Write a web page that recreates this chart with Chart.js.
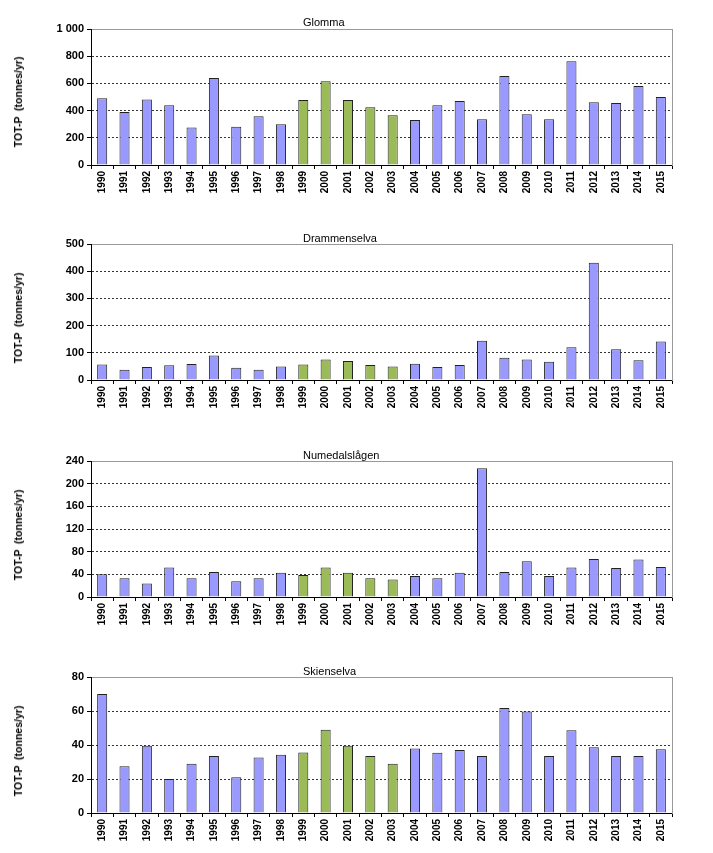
<!DOCTYPE html>
<html>
<head>
<meta charset="utf-8">
<script src="https://cdn.jsdelivr.net/npm/chart.js@4"></script>
<style>
  body { margin: 0; background: #fff; width: 713px; height: 853px; position: relative; overflow: hidden;
         font-family: "Liberation Sans", Arial, sans-serif; }
  .panel { position: absolute; left: 0; width: 713px; height: 206px; }
  .ttl { position: absolute; left: 303px; font-size: 11px; line-height: 12px; color: #000; }
  .ylab { position: absolute; left: 18px; font-size: 10.5px; font-weight: bold; white-space: pre; color: #000;
          transform: translate(-50%, -50%) rotate(-90deg); line-height: 12px; }
</style>
</head>
<body>
<div class="panel" style="top:9px"><canvas id="glommaChart" width="713" height="206"></canvas></div>
<div class="ttl" style="top:16px">Glomma</div>
<div class="ylab" style="top:102px">TOT-P  (tonnes/yr)</div>
<div class="panel" style="top:224px"><canvas id="drammenChart" width="713" height="206"></canvas></div>
<div class="ttl" style="top:232px">Drammenselva</div>
<div class="ylab" style="top:318px">TOT-P  (tonnes/yr)</div>
<div class="panel" style="top:441px"><canvas id="numedalChart" width="713" height="206"></canvas></div>
<div class="ttl" style="top:449px">Numedalslågen</div>
<div class="ylab" style="top:535px">TOT-P  (tonnes/yr)</div>
<div class="panel" style="top:657px"><canvas id="skienChart" width="713" height="206"></canvas></div>
<div class="ttl" style="top:665px">Skienselva</div>
<div class="ylab" style="top:751px">TOT-P  (tonnes/yr)</div>

<script>
const years = ["1990","1991","1992","1993","1994","1995","1996","1997","1998","1999","2000","2001","2002",
  "2003","2004","2005","2006","2007","2008","2009","2010","2011","2012","2013","2014","2015"];
const greenYears = ["1999","2000","2001","2002","2003"];

const glomma = [490, 390, 482, 440, 275, 640, 282, 358, 300, 478, 615, 478, 425, 365, 330, 440, 470, 336,
  655, 373, 336, 763, 461, 455, 580, 500];
const drammen = [57, 38, 48, 54, 59, 90, 45, 38, 50, 57, 75, 70, 55, 50, 60, 48, 55, 144, 82, 75, 67, 120,
  431, 113, 73, 142];
const numedal = [40, 33, 24, 52, 33, 44, 28, 33, 43, 39, 52, 43, 33, 31, 37, 33, 43, 227, 44, 63, 37, 52,
  67, 51, 66, 53];
const skien = [70, 27.5, 39.5, 20, 29, 33.6, 21, 32.6, 34.2, 35.6, 49, 39.5, 33.6, 29, 38, 35.5, 37, 33.6,
  61.7, 59.7, 33.6, 48.7, 38.7, 33.6, 33.6, 37.5];

const blue = "#9999FF";
const green = "#9BBB59";
const tickFont = { family: "'Liberation Sans', Arial, sans-serif", size: 11, weight: "bold" };

function fmt(v) {
  return String(v).replace(/\B(?=(\d{3})+(?!\d))/g, " ");
}

function createPanel(id, values, max, step) {
  new Chart(document.getElementById(id), {
    type: "bar",
    data: {
      labels: years,
      datasets: [{
        data: values,
        backgroundColor: years.map(y => greenYears.includes(y) ? green : blue),
        borderColor: "#222",
        borderWidth: 1,
        barPercentage: 0.45,
        categoryPercentage: 1
      }]
    },
    options: {
      responsive: false,
      animation: false,
      layout: { padding: { top: 20, right: 41, left: 0, bottom: 0 } },
      plugins: { legend: { display: false }, tooltip: { enabled: false } },
      scales: {
        x: {
          offset: true,
          grid: { offset: true, drawOnChartArea: false, tickLength: 4, tickColor: "#000" },
          border: { color: "#000", width: 1 },
          ticks: { minRotation: 90, maxRotation: 90, autoSkip: false, padding: 2, color: "#000",
                   font: { ...tickFont, size: 10 } },
          afterFit: s => { s.height = 50; }
        },
        xTop: {
          position: "top",
          ticks: { display: false },
          grid: { display: false },
          border: { color: "#999", width: 1 },
          afterFit: s => { s.height = 0; }
        },
        y: {
          min: 0,
          max: max,
          ticks: { stepSize: step, color: "#000", padding: 3, font: tickFont, callback: v => fmt(v) },
          grid: {
            color: ctx => (ctx.tick && ctx.tick.value === max) ? "rgba(0,0,0,0)" : "#333",
            tickColor: "#000",
            tickLength: 4,
            tickBorderDash: []
          },
          border: { color: "#000", width: 1, dash: [2, 2] },
          afterFit: s => { s.width = 91; }
        },
        yRight: {
          position: "right",
          ticks: { display: false },
          grid: { display: false },
          border: { color: "#999", width: 1 },
          afterFit: s => { s.width = 0; }
        }
      }
    }
  });
}

createPanel("glommaChart", glomma, 1000, 200);
createPanel("drammenChart", drammen, 500, 100);
createPanel("numedalChart", numedal, 240, 40);
createPanel("skienChart", skien, 80, 20);
</script>
</body>
</html>
